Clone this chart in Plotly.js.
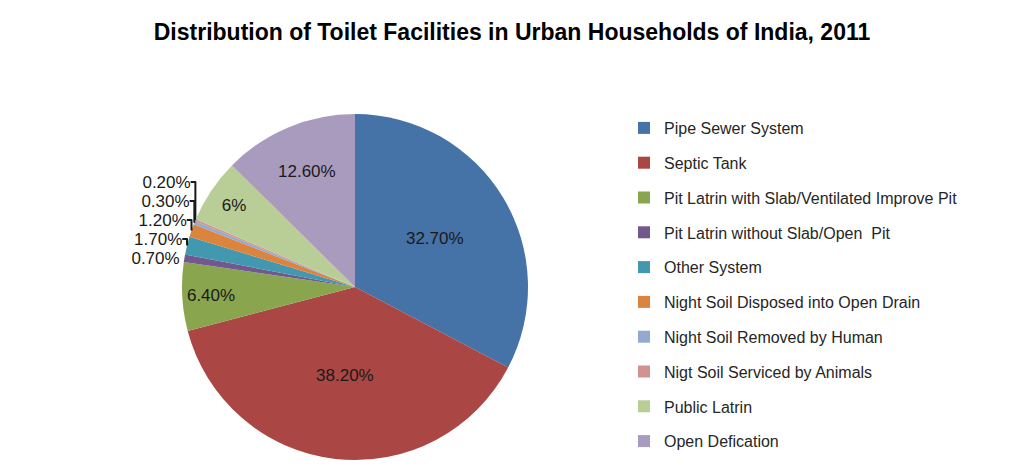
<!DOCTYPE html>
<html>
<head>
<meta charset="utf-8">
<script src="https://cdn.plot.ly/plotly-3.0.1.min.js"></script>
<style>html,body{margin:0;padding:0;background:#fff;}#chart{width:1024px;height:472px;}</style>
</head>
<body>
<div id="chart"></div>
<script>
var categories = [
  "Pipe Sewer System",
  "Septic Tank",
  "Pit Latrin with Slab/Ventilated Improve Pit",
  "Pit Latrin without Slab/Open  Pit",
  "Other System",
  "Night Soil Disposed into Open Drain",
  "Night Soil Removed by Human",
  "Nigt Soil Serviced by Animals",
  "Public Latrin",
  "Open Defication"
];
var shares = [32.7, 38.2, 6.4, 0.7, 1.7, 1.2, 0.3, 0.2, 6, 12.6];
var shareLabels = ["32.70%", "38.20%", "6.40%", "0.70%", "1.70%", "1.20%", "0.30%", "0.20%", "6%", "12.60%"];
var colors = ["#4572A7", "#AA4643", "#89A54E", "#71588F", "#4198AF", "#DB843D", "#93A9CF", "#D19392", "#B9CD96", "#A99BBD"];
var labelPositions = ["inside", "inside", "inside", "outside", "outside", "outside", "outside", "outside", "inside", "inside"];

var W = 1024, H = 472;
var cx = 355, r = 173;
var FONT = "Liberation Sans, Arial, sans-serif";

var pie = {
  type: "pie",
  labels: categories,
  values: shares,
  text: shareLabels,
  textinfo: "text",
  textposition: labelPositions,
  insidetextorientation: "horizontal",
  sort: false,
  direction: "clockwise",
  rotation: 0,
  marker: {colors: colors, line: {width: 0}},
  textfont: {family: FONT, size: 17, color: "#1a1a1a"},
  outsidetextfont: {family: FONT, size: 17, color: "#1a1a1a"},
  domain: {x: [(cx - r) / W, (cx + r) / W], y: [0, 1]},
  hoverinfo: "label+text",
  showlegend: true
};

var pad = {
  type: "scatter", x: [null], y: [null], name: " ",
  legendgroup: "pad", showlegend: true, mode: "markers",
  marker: {opacity: 0}, hoverinfo: "skip"
};

var layout = {
  width: W, height: H,
  margin: {l: 0, r: 0, t: 114, b: 12, autoexpand: false},
  paper_bgcolor: "#fff", plot_bgcolor: "#fff",
  title: {
    text: "<b>Distribution of Toilet Facilities in Urban Households of India, 2011</b>",
    font: {family: FONT, size: 23, color: "#000"},
    x: 0.5, xanchor: "center", xref: "container",
    y: 1 - 32 / H, yanchor: "middle", yref: "container"
  },
  xaxis: {visible: false}, yaxis: {visible: false},
  showlegend: true,
  legend: {
    x: 624 / W, xref: "container", xanchor: "left",
    y: 1 - 111 / H, yref: "container", yanchor: "top",
    traceorder: "grouped", tracegroupgap: 11, maxheight: 470,
    font: {family: FONT, size: 16, color: "#262626"},
    bgcolor: "rgba(0,0,0,0)", borderwidth: 0
  }
};

Plotly.newPlot("chart", [pie, pad], layout, {displayModeBar: false, staticPlot: true});
</script>
</body>
</html>
